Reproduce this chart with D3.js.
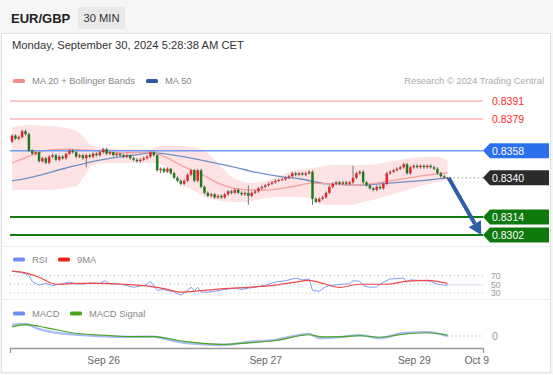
<!DOCTYPE html>
<html>
<head>
<meta charset="utf-8">
<script src="https://cdn.jsdelivr.net/npm/d3@7"></script>
<style>
  body { margin: 0; background: #fff; }
  svg { display: block; font-family: "Liberation Sans", Arial, sans-serif; }
</style>
</head>
<body>
<div id="chart"></div>
<script>
// 30 min candles: [open, high, low, close]
const candles = [
  [0.8364, 0.8369, 0.8363, 0.8368], [0.8368, 0.8369, 0.8365, 0.8366], [0.8366, 0.8368, 0.8365, 0.8367],
  [0.8367, 0.8372, 0.8366, 0.8371], [0.8371, 0.8372, 0.8368, 0.8369], [0.8369, 0.8370, 0.8357, 0.8358],
  [0.8358, 0.8359, 0.8355, 0.8356], [0.8356, 0.8358, 0.8355, 0.8357], [0.8357, 0.83575, 0.8350, 0.8351],
  [0.8351, 0.8354, 0.8350, 0.8353], [0.8353, 0.8354, 0.8349, 0.8350], [0.8350, 0.8355, 0.8349, 0.8354],
  [0.8354, 0.8356, 0.8353, 0.8355], [0.8355, 0.8356, 0.8351, 0.8352], [0.8352, 0.8355, 0.8351, 0.8354],
  [0.8354, 0.8355, 0.8352, 0.8353], [0.8353, 0.83565, 0.8352, 0.8356], [0.8356, 0.8359, 0.8355, 0.8358],
  [0.8358, 0.8359, 0.8356, 0.8357], [0.8357, 0.8358, 0.8353, 0.8354], [0.8354, 0.8356, 0.8353, 0.8355],
  [0.8355, 0.8356, 0.8352, 0.8353], [0.8353, 0.8356, 0.8347, 0.8355], [0.8355, 0.8356, 0.8353, 0.8354],
  [0.8354, 0.8357, 0.8353, 0.8356], [0.8356, 0.8357, 0.8354, 0.8355], [0.8355, 0.8358, 0.8354, 0.8357],
  [0.8357, 0.8360, 0.8356, 0.8359], [0.8359, 0.8360, 0.8355, 0.8356], [0.8356, 0.8358, 0.8355, 0.8357],
  [0.8357, 0.83575, 0.8354, 0.8355], [0.8355, 0.8357, 0.8354, 0.8356], [0.8356, 0.83565, 0.8354, 0.8355],
  [0.8355, 0.8356, 0.8353, 0.8354], [0.8354, 0.8356, 0.8353, 0.8355], [0.8355, 0.83555, 0.8352, 0.8353],
  [0.8353, 0.8354, 0.8351, 0.8352], [0.8352, 0.8353, 0.8350, 0.8351], [0.8351, 0.8353, 0.8350, 0.8352],
  [0.8352, 0.8354, 0.8351, 0.8353], [0.8353, 0.8355, 0.8352, 0.8354], [0.8354, 0.8358, 0.8353, 0.8357],
  [0.8357, 0.8358, 0.8354, 0.8355], [0.8355, 0.8356, 0.8344, 0.8345], [0.8345, 0.8347, 0.8343, 0.8346],
  [0.8346, 0.8347, 0.8343, 0.8344], [0.8344, 0.8347, 0.8343, 0.8346], [0.8346, 0.83465, 0.8342, 0.8343],
  [0.8343, 0.8344, 0.8339, 0.8340], [0.8340, 0.8341, 0.8337, 0.8338], [0.8338, 0.8339, 0.8335, 0.8336],
  [0.8336, 0.8339, 0.8335, 0.8338], [0.8338, 0.8343, 0.8337, 0.8342], [0.8342, 0.8346, 0.8341, 0.8345],
  [0.8345, 0.8346, 0.8337, 0.8338], [0.8338, 0.8346, 0.8337, 0.8345], [0.8345, 0.8346, 0.8333, 0.8334],
  [0.8334, 0.8335, 0.8329, 0.8330], [0.8330, 0.8331, 0.8327, 0.8328], [0.8328, 0.8330, 0.8327, 0.8329],
  [0.8329, 0.8330, 0.8326, 0.8327], [0.8327, 0.8329, 0.8326, 0.8328], [0.8328, 0.8329, 0.8326, 0.8327],
  [0.8327, 0.8330, 0.8326, 0.8329], [0.8329, 0.8332, 0.8328, 0.8331], [0.8331, 0.8332, 0.8329, 0.8330],
  [0.8330, 0.8333, 0.8329, 0.8332], [0.8332, 0.8333, 0.8329, 0.8330], [0.8330, 0.8331, 0.8328, 0.8329],
  [0.8329, 0.8331, 0.8328, 0.8330], [0.8330, 0.8335, 0.8322, 0.8328], [0.8328, 0.8331, 0.8327, 0.8330],
  [0.8330, 0.8332, 0.8329, 0.8331], [0.8331, 0.8334, 0.8330, 0.8333], [0.8333, 0.8335, 0.8332, 0.8334],
  [0.8334, 0.8336, 0.8333, 0.8335], [0.8335, 0.8337, 0.8334, 0.8336], [0.8336, 0.8338, 0.8335, 0.8337],
  [0.8337, 0.8339, 0.8336, 0.8338], [0.8338, 0.83395, 0.8337, 0.83385], [0.83385, 0.8340, 0.8338, 0.8339],
  [0.8339, 0.8341, 0.8338, 0.8340], [0.8340, 0.8342, 0.8339, 0.8341], [0.8341, 0.8344, 0.8340, 0.8343],
  [0.8343, 0.8344, 0.8341, 0.8342], [0.8342, 0.8344, 0.8341, 0.8343], [0.8343, 0.8344, 0.83415, 0.8342],
  [0.8342, 0.8344, 0.8341, 0.8343], [0.8343, 0.8345, 0.8342, 0.8344], [0.8344, 0.8345, 0.8322, 0.8326],
  [0.8326, 0.8327, 0.8323, 0.8324], [0.8324, 0.8327, 0.83235, 0.8326], [0.8326, 0.8328, 0.8325, 0.8327],
  [0.8327, 0.8331, 0.8326, 0.8330], [0.8330, 0.8335, 0.8329, 0.8334], [0.8334, 0.8337, 0.8333, 0.8336],
  [0.8336, 0.8338, 0.8335, 0.8337], [0.8337, 0.8338, 0.8335, 0.8336], [0.8336, 0.8338, 0.8335, 0.8337],
  [0.8337, 0.8338, 0.8335, 0.8336], [0.8336, 0.8338, 0.8335, 0.8337], [0.8337, 0.8348, 0.8336, 0.8340],
  [0.8340, 0.8344, 0.8339, 0.8343], [0.8343, 0.8345, 0.8342, 0.8344], [0.8344, 0.8345, 0.8336, 0.8337],
  [0.8337, 0.8338, 0.8334, 0.8335], [0.8335, 0.8336, 0.8332, 0.8333], [0.8333, 0.8334, 0.8331, 0.8332],
  [0.8332, 0.8335, 0.8331, 0.8334], [0.8334, 0.8335, 0.8332, 0.8333], [0.8333, 0.8337, 0.8332, 0.8336],
  [0.8336, 0.8344, 0.8335, 0.8343], [0.8343, 0.8345, 0.8342, 0.8344], [0.8344, 0.8346, 0.8343, 0.8345],
  [0.8345, 0.8347, 0.8344, 0.8346], [0.8346, 0.8348, 0.8345, 0.8347], [0.8347, 0.8350, 0.8346, 0.8349],
  [0.8349, 0.8350, 0.8342, 0.8343], [0.8343, 0.8348, 0.8342, 0.8347], [0.8347, 0.8349, 0.8346, 0.8348],
  [0.8348, 0.8349, 0.8346, 0.8347], [0.8347, 0.8349, 0.8346, 0.8348], [0.8348, 0.8349, 0.8346, 0.8347],
  [0.8347, 0.8349, 0.8346, 0.8348], [0.8348, 0.8349, 0.8346, 0.8347], [0.8347, 0.8348, 0.8345, 0.8346],
  [0.8346, 0.8347, 0.8342, 0.8343], [0.8343, 0.8344, 0.8340, 0.8341], [0.8341, 0.8342, 0.83395, 0.8340],
  [0.8340, 0.83405, 0.83395, 0.8340]
];

// Bollinger band, shared bar positions
const bbIndex = [0, 5, 11, 16, 19, 21, 23, 25, 28, 34, 41, 44, 47, 50, 53, 56, 59, 62, 65, 68, 71, 75, 79, 84, 89, 91, 95, 100, 104, 108, 113, 118, 122, 126, 129];
const bbUpper = [0.83737, 0.83751, 0.83744, 0.83731, 0.83711, 0.83678, 0.83624, 0.83604, 0.83598, 0.83591, 0.83591, 0.83611, 0.83611, 0.83611, 0.83604, 0.83591, 0.83545, 0.83472, 0.83405, 0.83379, 0.83365, 0.83379, 0.83412, 0.83452, 0.83465, 0.83472, 0.83485, 0.83485, 0.83485, 0.83492, 0.83511, 0.83531, 0.83538, 0.83538, 0.83518];
const bbLower = [0.83319, 0.83319, 0.83319, 0.83332, 0.83345, 0.83399, 0.83465, 0.83492, 0.83498, 0.83498, 0.83498, 0.83492, 0.83432, 0.83359, 0.83325, 0.83286, 0.83259, 0.83246, 0.83239, 0.83239, 0.83246, 0.83266, 0.83272, 0.83272, 0.83266, 0.83226, 0.83219, 0.83219, 0.83239, 0.83259, 0.83292, 0.83325, 0.83352, 0.83372, 0.83385];

// [bar, value]
const ma20 = [[0, 0.83498], [6, 0.83551], [11, 0.83585], [16, 0.83591], [21, 0.83585], [26, 0.83578], [31, 0.83565], [41, 0.83571], [46, 0.83531], [51, 0.83472], [56, 0.83425], [61, 0.83365], [65.5, 0.83332], [70.5, 0.83319], [75.5, 0.83319], [80.5, 0.83332], [85.5, 0.83352], [89, 0.83365], [94, 0.83359], [100, 0.83352], [106, 0.83359], [113.5, 0.83385], [123, 0.83418], [129, 0.83432]];
const ma50 = [[0, 0.83379], [6, 0.83405], [16, 0.83465], [26, 0.83518], [36, 0.83551], [42, 0.83565], [48, 0.83551], [56, 0.83518], [65.5, 0.83472], [70.5, 0.83445], [80.5, 0.83405], [85.5, 0.83392], [93.5, 0.83359], [103.5, 0.83352], [111.5, 0.83365], [123, 0.83385], [129, 0.83399]];

const rsi = [[0, 80], [2, 78], [4, 74], [5, 70], [6, 56], [8, 48], [10, 52], [12, 47], [14, 50], [17, 55], [19, 51], [21, 50], [23, 53], [26, 52], [27.5, 58], [29, 51], [32, 50], [34, 47], [36, 43], [38, 46], [40, 49], [41, 57], [43, 36], [45, 38], [48, 32], [50, 25], [51, 30], [53, 43], [54, 36], [55, 43], [56, 32], [58, 32], [61, 35], [63, 38], [66, 41], [68, 38], [70, 41], [72, 43], [75, 48], [78, 55], [81, 58], [84, 64], [86, 60], [88, 62], [89, 36], [91, 34], [93, 45], [95, 48], [98, 50], [100, 51], [101, 58], [103, 57], [104, 47], [106, 43], [108, 44], [110, 55], [112, 62], [114, 63], [116, 64], [117, 55], [118, 60], [120, 59], [122, 58], [124, 57], [126, 50], [128, 48], [129, 48]];
const rsiMa = [[0, 80], [4, 76], [8, 66], [13, 50], [20, 52], [26, 52], [33, 50], [41, 45], [45, 40], [50, 32], [55, 35], [61, 39], [70, 43], [78, 48], [84, 55], [88, 59], [92, 52], [97, 43], [103, 50], [111, 50], [117, 57], [123, 59], [129, 52]];
const rsiLevels = [70, 50, 30];

const macd = [[0, 0.00037], [4, 0.0004], [8, 0.00023], [12, 0.00013], [16, 0.00007], [26, 0], [36, -0.00003], [42, -0.00002], [46, -0.00012], [51, -0.00023], [56, -0.00027], [62, -0.0003], [70, -0.0002], [78, -0.00013], [85, 0.00003], [88, 0.00007], [91, -0.00007], [98, -0.00003], [103, 0.00003], [109, -0.00007], [116, 0.0001], [123, 0.00013], [129, 0]];
const macdSignal = [[0, 0.0003], [4, 0.00038], [10, 0.00028], [18, 0.0001], [28, 0.00002], [36, -0.00002], [42, -0.00002], [51, -0.00018], [62, -0.00028], [71, -0.00022], [78, -0.00015], [88, 0.00004], [92, -0.00003], [98, -0.00002], [103, 0.00001], [109, -0.00004], [116, 0.00006], [123, 0.00011], [129, 0.00003]];

const resistances = [0.8391, 0.8379];
const pivot = 0.8358;
const lastPrice = 0.8340;
const supports = [0.8314, 0.8302];
const targetBar = 139;

const tickIndex = [27, 75, 119, 137.5];
const tickLabels = ["Sep 26", "Sep 27", "Sep 29", "Oct 9"];

const W = 553, H = 375;
const svg = d3.select("#chart").append("svg").attr("width", W).attr("height", H);

// frame
svg.append("rect").attr("width", W).attr("height", H).attr("fill", "#f6f6f6");
svg.append("rect").attr("x", 1.5).attr("y", 33.5).attr("width", 549).attr("height", 339)
  .attr("fill", "#fff").attr("stroke", "#e2e2e2");

svg.append("text").attr("x", 11).attr("y", 23).attr("font-size", 13).attr("font-weight", "bold")
  .attr("fill", "#222").text("EUR/GBP");
svg.append("rect").attr("x", 78).attr("y", 7).attr("width", 47).attr("height", 22).attr("fill", "#e9e9e9");
svg.append("text").attr("x", 101.5).attr("y", 22).attr("text-anchor", "middle").attr("font-size", 11.2)
  .attr("fill", "#333").text("30 MIN");
svg.append("text").attr("x", 12).attr("y", 48.5).attr("font-size", 11.2).attr("fill", "#333")
  .text("Monday, September 30, 2024 5:28:38 AM CET");

const x = d3.scaleLinear().domain([-0.6, 139.5]).range([10, 483]);
const y = d3.scaleLinear().domain([0.8302, 0.8391]).range([235, 101]);
const yRsi = d3.scaleLinear().domain([30, 70]).range([293, 275.5]);
const yMacd = d3.scaleLinear().domain([-0.0003, 0.0003]).range([345, 327]);

const legend = (items, yy) => {
  items.forEach(([sx, color, label]) => {
    svg.append("rect").attr("x", sx).attr("y", yy - 2).attr("width", 12).attr("height", 4)
      .attr("rx", 1.5).attr("fill", color);
    svg.append("text").attr("x", sx + 19).attr("y", yy + 3.3).attr("font-size", 9.4)
      .attr("fill", "#888").text(label);
  });
};
legend([[13, "#f98a8a", "MA 20 + Bollinger Bands"], [146, "#2f5a9e", "MA 50"]], 81);
svg.append("text").attr("x", 544).attr("y", 84.3).attr("text-anchor", "end").attr("font-size", 9.4)
  .attr("fill", "#aaa").text("Research \u00a9 2024 Trading Central");

// bollinger band
const band = bbIndex.map((b, i) => [b, bbUpper[i], bbLower[i]]);
svg.append("path").datum(band)
  .attr("d", d3.area().x(d => x(d[0])).y0(d => y(d[2])).y1(d => y(d[1])).curve(d3.curveMonotoneX))
  .attr("fill", "#fde3e3");

const pts = (sy) => d3.line().x(d => x(d[0])).y(d => sy(d[1])).curve(d3.curveMonotoneX);
svg.append("path").datum(ma50).attr("d", pts(y)).attr("fill", "none").attr("stroke", "#6f8fc9").attr("stroke-width", 1.3);
svg.append("path").datum(ma20).attr("d", pts(y)).attr("fill", "none").attr("stroke", "#f8a0a0").attr("stroke-width", 1.3);

// horizontal levels
resistances.forEach(p => {
  svg.append("line").attr("x1", 10).attr("x2", 483).attr("y1", y(p)).attr("y2", y(p))
    .attr("stroke", "#fbb4b4").attr("stroke-width", 1.5);
  svg.append("text").attr("x", 492).attr("y", y(p) + 4).attr("font-size", 10.5).attr("fill", "#ff2a2a")
    .text(p.toFixed(4));
});
svg.append("line").attr("x1", 10).attr("x2", 483).attr("y1", y(pivot)).attr("y2", y(pivot))
  .attr("stroke", "#6f9cf4").attr("stroke-width", 1.5);
supports.forEach(p => {
  svg.append("line").attr("x1", 10).attr("x2", 483).attr("y1", y(p)).attr("y2", y(p))
    .attr("stroke", "#117a11").attr("stroke-width", 2);
});

// candles
const last = candles.length - 1;
svg.append("line").attr("x1", x(last) + 2).attr("x2", 483).attr("y1", y(lastPrice)).attr("y2", y(lastPrice))
  .attr("stroke", "#999").attr("stroke-dasharray", "1.5,2.5");
svg.append("g").selectAll("line").data(candles).join("line")
  .attr("x1", (d, i) => x(i)).attr("x2", (d, i) => x(i))
  .attr("y1", d => y(d[1])).attr("y2", d => y(d[2]))
  .attr("stroke", "#777").attr("stroke-width", 1);
svg.append("g").selectAll("rect").data(candles).join("rect")
  .attr("x", (d, i) => x(i) - 1.25).attr("width", 2.5)
  .attr("y", d => y(Math.max(d[0], d[3])))
  .attr("height", d => Math.max(1, Math.abs(y(d[0]) - y(d[3]))))
  .attr("fill", d => d[3] >= d[0] ? "#e0262a" : "#1d7a1d");

// forecast arrow
{
  const x0 = x(last) + 1, y0 = y(lastPrice), x1 = x(targetBar), y1 = y(supports[1]);
  const a = Math.atan2(y1 - y0, x1 - x0), hl = 13, hw = 7;
  const bx = x1 - hl * Math.cos(a), by = y1 - hl * Math.sin(a);
  svg.append("line").attr("x1", x0).attr("y1", y0).attr("x2", bx).attr("y2", by)
    .attr("stroke", "#2e5ea8").attr("stroke-width", 4);
  svg.append("path").attr("fill", "#2e5ea8").attr("d",
    `M${x1},${y1}L${bx + hw * Math.sin(a)},${by - hw * Math.cos(a)}L${bx - hw * Math.sin(a)},${by + hw * Math.cos(a)}Z`);
}

// price tags
const tag = (p, fill) => {
  const c = y(p);
  svg.append("path").attr("fill", fill)
    .attr("d", `M483,${c}L490,${c - 7.5}H549V${c + 7.5}H490Z`);
  svg.append("text").attr("x", 492).attr("y", c + 4).attr("font-size", 10.5).attr("fill", "#fff")
    .text(p.toFixed(4));
};
tag(pivot, "#2c6fee");
tag(lastPrice, "#2b2b2b");
supports.forEach(p => tag(p, "#0e7a0e"));

// panel separators
[246.5, 299.5].forEach(v => svg.append("line").attr("x1", 2).attr("x2", 550).attr("y1", v).attr("y2", v)
  .attr("stroke", "#efefef"));

// RSI
legend([[13, "#6f8ff0", "RSI"], [58, "#ee2222", "9MA"]], 259.5);
rsiLevels.forEach(v => {
  svg.append("line").attr("x1", 10).attr("x2", 483).attr("y1", yRsi(v)).attr("y2", yRsi(v))
    .attr("stroke", "#bbb").attr("stroke-dasharray", "1,3");
  svg.append("text").attr("x", 491).attr("y", yRsi(v) + 3.3).attr("font-size", 8.6).attr("fill", "#999").text(v);
});
svg.append("path").datum(rsi).attr("d", pts(yRsi).curve(d3.curveLinear)).attr("fill", "none")
  .attr("stroke", "#7f9cf2").attr("stroke-width", 1);
svg.append("path").datum(rsiMa).attr("d", pts(yRsi)).attr("fill", "none")
  .attr("stroke", "#f04848").attr("stroke-width", 1.2);
svg.append("line").attr("x1", x(last)).attr("x2", 483).attr("y1", yRsi(rsi[rsi.length - 1][1])).attr("y2", yRsi(rsi[rsi.length - 1][1]))
  .attr("stroke", "#7f9cf2").attr("stroke-dasharray", "1,3");

// MACD
legend([[13, "#6f8ff0", "MACD"], [70, "#4aa51c", "MACD Signal"]], 313.5);
svg.append("path").datum(macd).attr("d", pts(yMacd)).attr("fill", "none")
  .attr("stroke", "#a9bcf6").attr("stroke-width", 2.4);
svg.append("path").datum(macdSignal).attr("d", pts(yMacd)).attr("fill", "none")
  .attr("stroke", "#4aa51c").attr("stroke-width", 1.1);
svg.append("line").attr("x1", x(last)).attr("x2", 483).attr("y1", yMacd(macd[macd.length - 1][1])).attr("y2", yMacd(macd[macd.length - 1][1]))
  .attr("stroke", "#7f9cf2").attr("stroke-dasharray", "1,3");
svg.append("text").attr("x", 492).attr("y", yMacd(0) + 4).attr("font-size", 10.5).attr("fill", "#999").text("0");

// time axis
const xAxis = svg.append("g").attr("transform", "translate(0,348)")
  .call(d3.axisBottom(x).tickValues(tickIndex).tickFormat((d, i) => tickLabels[i])
    .tickSizeInner(0).tickSizeOuter(5).tickPadding(9));
xAxis.attr("font-family", null).attr("font-size", null);
xAxis.select(".domain").attr("stroke", "#999").attr("stroke-width", 1.3);
xAxis.selectAll("text").attr("fill", "#666").attr("font-size", 10.3);
</script>
</body>
</html>
